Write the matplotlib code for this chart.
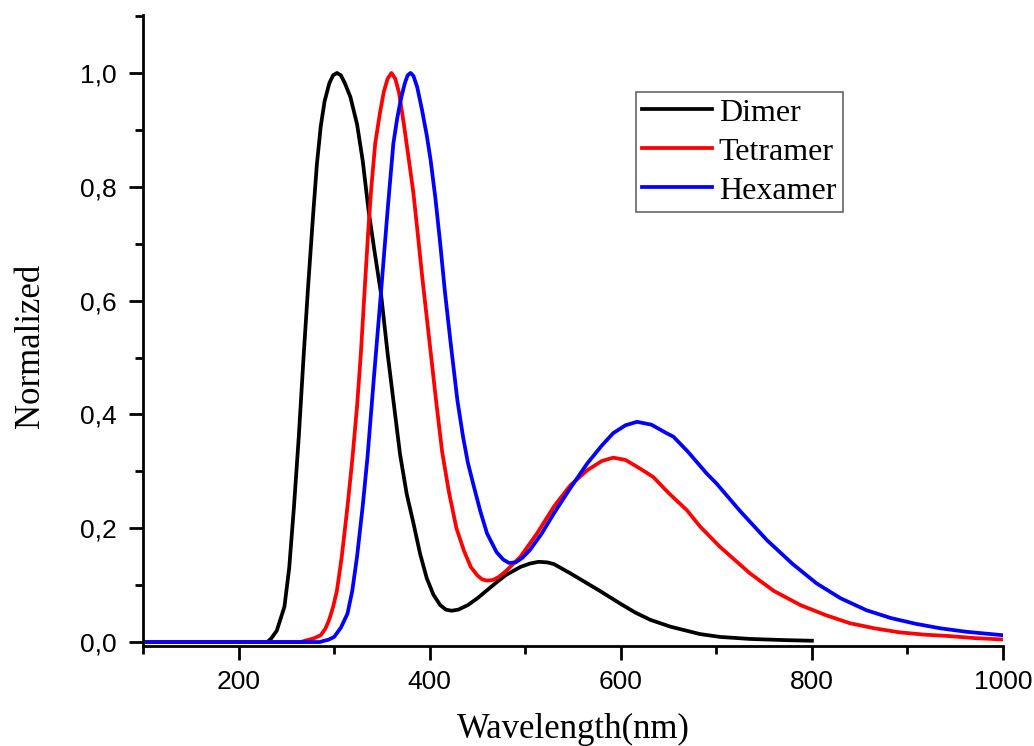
import matplotlib
matplotlib.use("Agg")
from matplotlib import pyplot as plt
from matplotlib.ticker import MultipleLocator, FuncFormatter

# values
dimer_x = [100, 230, 234, 240, 248, 253, 258, 263, 268, 273, 278, 282, 286, 290, 295, 299, 303,
           307, 311, 317, 324, 330, 336, 342, 349, 356, 362, 369, 376, 383, 390, 397, 404, 411,
           417, 423, 430, 440, 450, 460, 470, 480, 495, 505, 514, 523, 530, 547, 565, 578, 599,
           615, 631, 652, 683, 704, 735, 770, 800]
dimer_y = [0, 0, 0.006, 0.02, 0.062, 0.13, 0.238, 0.36, 0.5, 0.63, 0.75, 0.84, 0.906, 0.95,
           0.982, 0.996, 1.0, 0.996, 0.983, 0.958, 0.91, 0.845, 0.759, 0.69, 0.613, 0.507, 0.425,
           0.33, 0.26, 0.209, 0.155, 0.112, 0.083, 0.065, 0.057, 0.055, 0.057, 0.065, 0.077,
           0.091, 0.105, 0.118, 0.132, 0.138, 0.141, 0.14, 0.137, 0.121, 0.103, 0.09, 0.068,
           0.052, 0.039, 0.027, 0.014, 0.009, 0.0055, 0.0035, 0.0023]

tetra_x = [100, 265, 272, 278, 286, 291, 295, 299, 303, 308, 314, 319, 324, 328, 332, 336, 339,
           343, 348, 352, 356, 360, 364, 368, 373, 378, 383, 388, 392, 397, 401, 407, 413, 420,
           428, 436, 443, 450, 455, 460, 466, 472, 480, 495, 512, 530, 547, 565, 580, 592, 605,
           620, 634, 650, 669, 683, 704, 735, 760, 788, 815, 840, 866, 892, 918, 944, 970, 1000]
tetra_y = [0, 0, 0.0035, 0.006, 0.012, 0.024, 0.04, 0.062, 0.091, 0.15, 0.238, 0.32, 0.414,
           0.507, 0.62, 0.73, 0.8, 0.876, 0.93, 0.967, 0.99, 1.0, 0.99, 0.965, 0.91, 0.85, 0.789,
           0.71, 0.645, 0.57, 0.51, 0.42, 0.335, 0.265, 0.2, 0.16, 0.132, 0.117, 0.11, 0.108,
           0.109, 0.114, 0.125, 0.15, 0.19, 0.238, 0.275, 0.302, 0.318, 0.324, 0.32, 0.305, 0.29,
           0.262, 0.232, 0.203, 0.167, 0.121, 0.09, 0.065, 0.047, 0.033, 0.024, 0.017, 0.013,
           0.0105, 0.007, 0.0045]

hexa_x = [100, 285, 289, 294, 300, 307, 314, 319, 324, 330, 335, 342, 349, 356, 362, 366, 370,
          374, 377, 380, 383, 387, 392, 397, 401, 406, 411, 416, 422, 429, 435, 440, 446, 453,
          460, 470, 477, 483, 490, 497, 505, 517, 530, 547, 565, 580, 592, 605, 617, 632, 648,
          655, 670, 690, 700, 725, 753, 780, 805, 830, 857, 883, 909, 935, 962, 1000]
hexa_y = [0, 0, 0.002, 0.004, 0.009, 0.025, 0.05, 0.09, 0.15, 0.24, 0.326, 0.472, 0.613, 0.759,
          0.876, 0.92, 0.955, 0.982, 0.996, 1.0, 0.995, 0.975, 0.935, 0.89, 0.847, 0.78, 0.701,
          0.615, 0.525, 0.425, 0.36, 0.315, 0.275, 0.23, 0.191, 0.158, 0.145, 0.139, 0.14, 0.148,
          0.162, 0.19, 0.226, 0.27, 0.314, 0.345, 0.367, 0.381, 0.387, 0.382, 0.367, 0.361,
          0.335, 0.296, 0.279, 0.23, 0.179, 0.137, 0.103, 0.077, 0.056, 0.042, 0.032, 0.024,
          0.018, 0.012]

labels = ["Dimer", "Tetramer", "Hexamer"]
colors = ["black", "red", "blue"]

fig = plt.figure(figsize=(10.34, 7.46), dpi=100)
ax = fig.add_axes([0.1383, 0.134, 0.8317, 0.846])

ax.plot(dimer_x, dimer_y, color=colors[0], lw=2.7, label=labels[0])
ax.plot(tetra_x, tetra_y, color=colors[1], lw=2.7, label=labels[1])
ax.plot(hexa_x, hexa_y, color=colors[2], lw=2.7, label=labels[2])

ax.set_xlim(100, 1000)
ax.set_ylim(-0.007, 1.102)

for s in ["top", "right"]:
    ax.spines[s].set_visible(False)
for s in ["left", "bottom"]:
    ax.spines[s].set_linewidth(2.0)

ax.xaxis.set_major_locator(MultipleLocator(200))
ax.xaxis.set_minor_locator(MultipleLocator(100))
ax.yaxis.set_major_locator(MultipleLocator(0.2))
ax.yaxis.set_minor_locator(MultipleLocator(0.1))
ax.yaxis.set_major_formatter(FuncFormatter(lambda v, p: ("%.1f" % v).replace(".", ",")))

ax.tick_params(which="major", direction="out", length=10, width=2.0, labelsize=19, pad=7)
ax.tick_params(which="minor", direction="out", length=6, width=2.0)
ax.tick_params(axis="y", which="major", pad=9)
for t in ax.get_xticklabels() + ax.get_yticklabels():
    t.set_family("Liberation Sans")

ax.set_xlabel("Wavelength(nm)", family="Liberation Serif", fontsize=25, labelpad=14)
ax.set_ylabel("Normalized", family="Liberation Serif", fontsize=25, labelpad=24)
ax.yaxis.label.set_y(0.475)

leg = ax.legend(loc="upper left", bbox_to_anchor=(0.573, 0.878), borderaxespad=0,
                prop={"family": "Liberation Serif", "size": 23}, fancybox=False,
                handlelength=2.2, handletextpad=0.2, labelspacing=0.3,
                borderpad=0.2, framealpha=1)
leg.get_frame().set_edgecolor("#666666")
leg.get_frame().set_linewidth(1.2)

fig.savefig("out.png", dpi=100)
